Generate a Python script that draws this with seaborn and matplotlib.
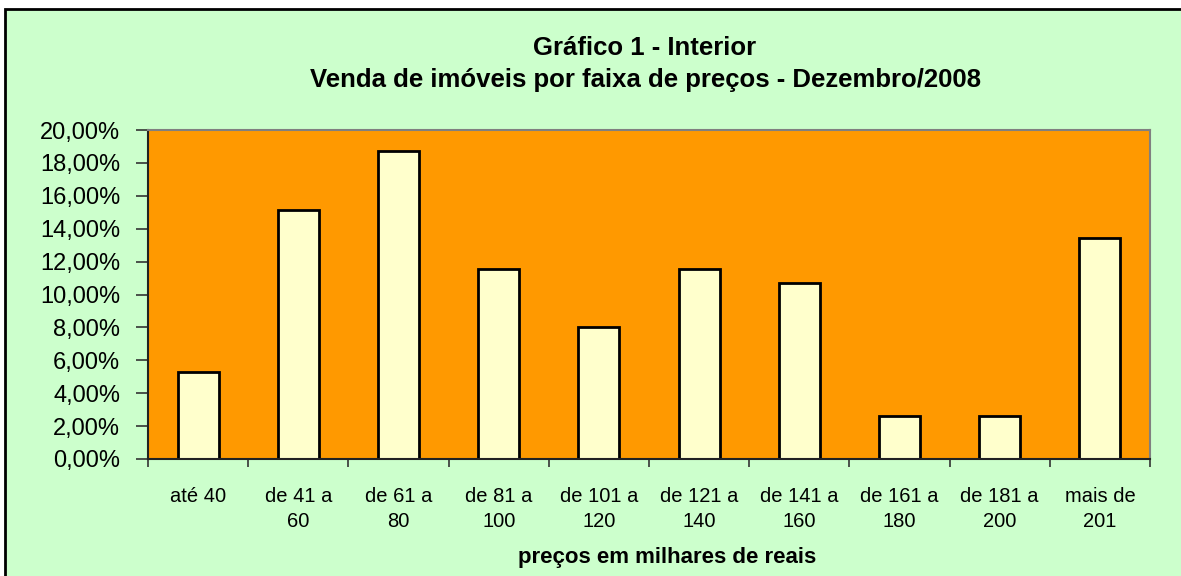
import numpy as np
import matplotlib
matplotlib.use("Agg")
import matplotlib.pyplot as plt
from matplotlib.patches import Rectangle
from matplotlib.ticker import FuncFormatter, FixedLocator
import seaborn as sns

# dados
faixas = ["até 40", "de 41 a\n60", "de 61 a\n80", "de 81 a\n100", "de 101 a\n120",
          "de 121 a\n140", "de 141 a\n160", "de 161 a\n180", "de 181 a\n200", "mais de\n201"]
vendas = [5.26, 15.13, 18.75, 11.55, 8.03, 11.55, 10.70, 2.63, 2.63, 13.45]
y_ticks = [0, 2, 4, 6, 8, 10, 12, 14, 16, 18, 20]

sns.set_style("white")
plt.rcParams['font.family'] = ['Liberation Sans', 'DejaVu Sans']
plt.rcParams['text.color'] = 'black'
plt.rcParams['xtick.color'] = 'black'
plt.rcParams['ytick.color'] = 'black'

fig = plt.figure(figsize=(11.81, 5.76), dpi=100, facecolor="white")
# moldura verde do gráfico
fig.add_artist(Rectangle((5 / 1181, -0.1), 2.0, 1 - 9 / 576 + 0.1, transform=fig.transFigure,
                         facecolor="#CCFFCC", edgecolor="black", linewidth=2, zorder=-10))

ax = fig.add_axes([148 / 1181, 1 - 459 / 576, (1150 - 148) / 1181, (459 - 130) / 576])
ax.set_facecolor("#FF9900")

sns.barplot(x=list(range(len(faixas))), y=vendas, color="#FFFFCC", edgecolor="black",
            linewidth=2, width=0.41, saturation=1, ax=ax, native_scale=True)

ax.set_xlim(-0.5, len(faixas) - 0.5)
ax.set_ylim(0, 20)
ax.set_yticks(y_ticks)
ax.yaxis.set_major_formatter(FuncFormatter(lambda v, p: f"{v:.2f}%".replace(".", ",")))
ax.set_xticks(range(len(faixas)))
ax.set_xticklabels(faixas, fontsize=14.5, linespacing=1.4)
ax.xaxis.set_minor_locator(FixedLocator(np.arange(-0.5, len(faixas), 1)))
ax.tick_params(axis="x", which="major", length=0, pad=20)
ax.tick_params(axis="x", which="minor", length=6, width=1.2, color="#333333", direction="out", bottom=True)
ax.tick_params(axis="y", length=9, width=1.2, color="#333333", direction="out", left=True,
               pad=11, labelsize=17)
ax.set_xlabel("")
ax.set_ylabel("")

for s in ["left", "bottom"]:
    ax.spines[s].set_color("#222222")
    ax.spines[s].set_linewidth(1.5)
for s in ["top", "right"]:
    ax.spines[s].set_color("#808080")
    ax.spines[s].set_linewidth(1.5)

fig.text(645 / 1181, 1 - 48 / 576, "Gráfico 1 - Interior", ha="center", va="center",
         fontsize=18.5, fontweight="bold")
fig.text(645 / 1181, 1 - 80 / 576, "Venda de imóveis por faixa de preços - Dezembro/2008",
         ha="center", va="center", fontsize=18.5, fontweight="bold")
fig.text(667 / 1181, 1 - 558 / 576, "preços em milhares de reais", ha="center", va="center",
         fontsize=16, fontweight="bold")

fig.savefig("out.png", dpi=100, facecolor=fig.get_facecolor())
